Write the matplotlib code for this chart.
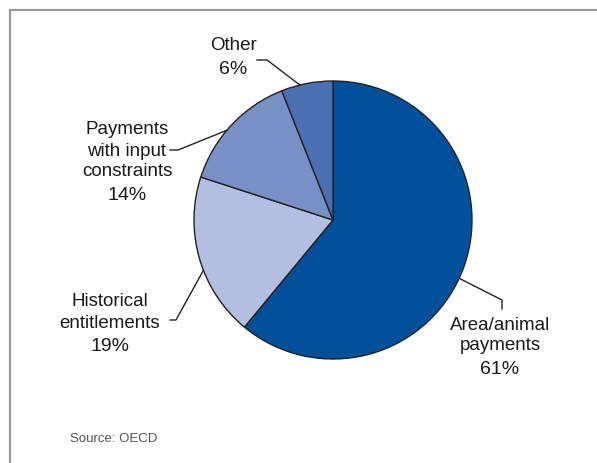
import numpy as np
import matplotlib
matplotlib.use("Agg")
import matplotlib.pyplot as plt

labels = ["Area/animal\npayments", "Historical\nentitlements",
          "Payments\nwith input\nconstraints", "Other"]
shares = [61, 19, 14, 6]
colors = ["#00509c", "#b3bfe0", "#7890c6", "#4a6fb3"]

W, H = 597, 464
plt.rcParams["font.family"] = ["Liberation Sans", "DejaVu Sans"]

fig = plt.figure(figsize=(W / 100, H / 100), dpi=100)
ax = fig.add_axes([0, 0, 1, 1])
ax.set_xlim(0, W)
ax.set_ylim(0, H)
ax.set_aspect("equal")
ax.axis("off")

# work in pixel units measured from the top-left corner
def py(y):
    return H - y

cx, cy, r = 333, py(221), 139
wedges, _ = ax.pie(shares, colors=colors, startangle=90, counterclock=False,
                   center=(cx, cy), radius=r, frame=False,
                   wedgeprops=dict(edgecolor="#222222", linewidth=1.0))
ax.set_xlim(0, W)
ax.set_ylim(0, H)

# frame: top and left rules only
ax.plot([9.5, W], [py(11), py(11)], color="#9a9a9a", lw=1.6, clip_on=False)
ax.plot([9.5, 9.5], [py(11), 0], color="#9a9a9a", lw=1.6, clip_on=False)

# x centre and top line y of each label, leader path and angle nudge
label_pos = [(500, 325), (110, 302), (127, 130), (233, 45)]
leader_pts = [[(502, 310), (502, 301)], [(170, 321), (176, 321)],
              [(170, 151), (178, 151)], [(257, 61), (267, 61)]]
nudge = [-5, 5, 3, 3]
step = 21

for w, lab, s, (tx, ty), pts, dn in zip(wedges, labels, shares,
                                         label_pos, leader_pts, nudge):
    mid = np.deg2rad((w.theta1 + w.theta2) / 2 + dn)
    ex, ey = cx + r * np.cos(mid), cy + r * np.sin(mid)
    xs = [p[0] for p in pts] + [ex]
    ys = [py(p[1]) for p in pts] + [ey]
    ax.plot(xs, ys, color="#222222", lw=1.0)
    lines = lab.split("\n")
    for i, line in enumerate(lines):
        ax.text(tx, py(ty + i * step), line, ha="center", va="center",
                fontsize=13.5, color="#1a1a1a")
    ax.text(tx, py(ty + (len(lines) - 1) * step + 24), f"{s}%",
            ha="center", va="center", fontsize=14, color="#1a1a1a")

ax.text(70, py(439), "Source: OECD", ha="left", va="center",
        fontsize=9.5, color="#555555")

fig.savefig("out.png", dpi=100)
